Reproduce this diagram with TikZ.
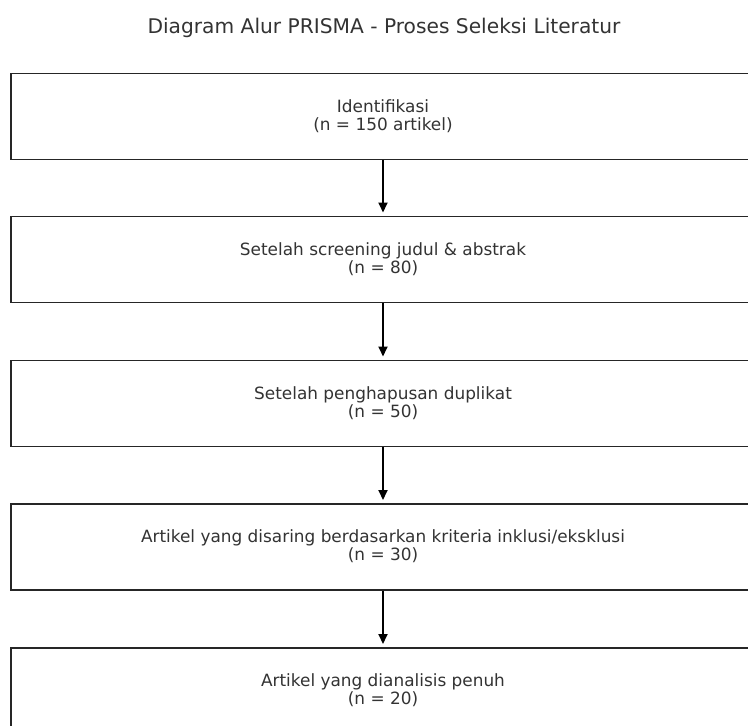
\documentclass[tikz,border=0pt]{standalone}
\usepackage{fontspec}
\setmainfont{DejaVu Sans}
\usetikzlibrary{arrows.meta}
\definecolor{txt}{HTML}{333333}
\begin{document}
\begin{tikzpicture}[x=1pt,y=-1pt,
  flowbox/.style={draw=black!85,line width=1.8pt,minimum width=746pt,minimum height=86pt,inner sep=0pt,anchor=north west},
  boxtext/.style={text=txt,font=\fontsize{16.9}{18}\selectfont,align=center},
  flowarrow/.style={-{Triangle[length=10pt,width=9pt]},line width=1.8pt,black,shorten >=3pt}]
\useasboundingbox (0,0) rectangle (748,726);
\clip (0,0) rectangle (748,726);
\fill[white] (0,0) rectangle (748,726);
\node[text=txt,font=\fontsize{20.2}{24}\selectfont] (title) at (384,28) {Diagram Alur PRISMA - Proses Seleksi Literatur};
\node[flowbox] (b1) at (10,72.5) {};
\node[flowbox] (b2) at (10,215.5) {};
\node[flowbox] (b3) at (10,359.5) {};
\node[flowbox] (b4) at (10,503) {};
\node[flowbox] (b5) at (10,647) {};
\node[boxtext] (t1) at (383,116) {Identifikasi\\(n = 150 artikel)};
\node[boxtext] (t2) at (383,259) {Setelah screening judul \& abstrak\\(n = 80)};
\node[boxtext] (t3) at (383,403) {Setelah penghapusan duplikat\\(n = 50)};
\node[boxtext] (t4) at (383,546.5) {Artikel yang disaring berdasarkan kriteria inklusi/eksklusi\\(n = 30)};
\node[boxtext] (t5) at (383,690.5) {Artikel yang dianalisis penuh\\(n = 20)};
\draw[flowarrow] (b1.south -| t1.center) -- (b2.north -| t1.center);
\draw[flowarrow] (b2.south -| t1.center) -- (b3.north -| t1.center);
\draw[flowarrow] (b3.south -| t1.center) -- (b4.north -| t1.center);
\draw[flowarrow] (b4.south -| t1.center) -- (b5.north -| t1.center);
\end{tikzpicture}
\end{document}
